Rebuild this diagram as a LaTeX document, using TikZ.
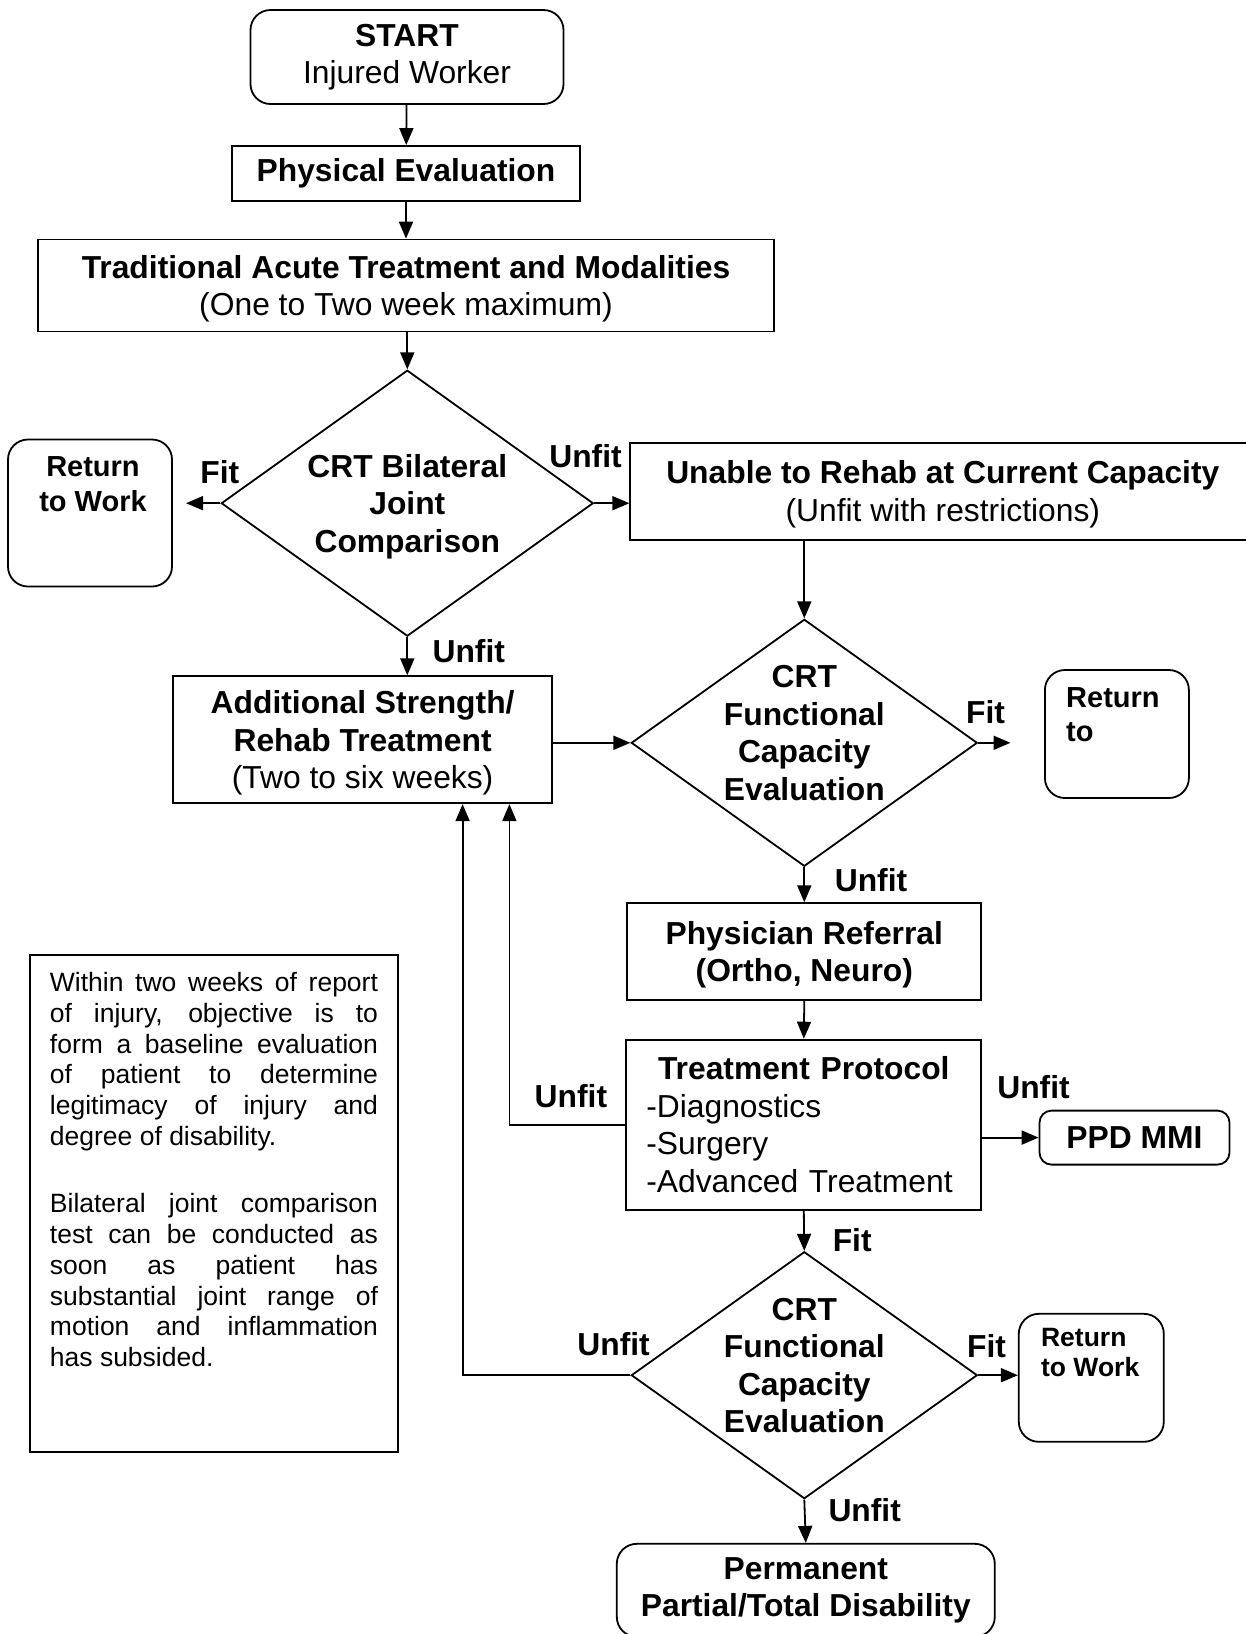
\documentclass[tikz,border=0pt]{standalone}
\usepackage{fontspec}
\setmainfont{Liberation Sans}
\usetikzlibrary{shapes.geometric,arrows.meta,positioning}

\newcommand\boxfont{\fontsize{31.8}{37.5}\selectfont}
\newcommand\notefont{\fontsize{26.5}{30.7}\selectfont}

\tikzset{
  stepbox/.style={draw, line width=1.8pt, inner sep=0pt, align=center, font=\boxfont},
  endbox/.style={stepbox, rounded corners=20pt},
  check/.style={stepbox, diamond, font=\boxfont\bfseries, shape aspect=1.4,
    inner sep=-12pt, minimum width=346pt, minimum height=247pt},
  flow/.style={line width=1.8pt, -{Triangle[length=17pt,width=14pt]}},
  answer/.style={inner sep=0pt, font=\boxfont\bfseries},
}

\begin{document}
\begin{tikzpicture}[x=1pt, y=-1pt]
  \clip (0,0) rectangle (1246,1634);

  % main column
  \node[endbox, minimum width=313pt, minimum height=94pt] (start) at (407,57)
    {\textbf{START}\\Injured Worker};
  \node[stepbox, minimum width=348pt, minimum height=55pt] (phys) at (406,173.5)
    {\textbf{Physical Evaluation}};
  \node[stepbox, minimum width=736pt, minimum height=92pt, text depth=0pt] (trad) at (406,285.5)
    {\textbf{Traditional Acute Treatment and Modalities}\\(One to Two week maximum)};
  \node[check, minimum width=372pt, minimum height=266pt, text depth=0pt] (bjc) at (407.3,503.2)
    {CRT Bilateral\\Joint\\Comparison};

  \node[endbox, minimum width=164pt, minimum height=147pt] (rtwA) at (90,513) {};
  \node[answer, font=\fontsize{29}{35.4}\selectfont\bfseries, align=center,
    below=17.5pt of rtwA.north, xshift=3pt] (rtwAtext) {Return\\to Work};

  \node[stepbox, minimum width=625pt, minimum height=97pt, text depth=0pt] (unable) at (942.8,491.2)
    {\textbf{Unable to Rehab at Current Capacity}\\(Unfit with restrictions)};
  \node[stepbox, minimum width=379pt, minimum height=127pt, text depth=0pt] (add)
    at (362.6,739.7)
    {\textbf{Additional Strength/}\\\textbf{Rehab Treatment}\\(Two to six weeks)};

  % right column
  \node[check, text depth=20pt] (fce) at (804.3,742.8)
    {CRT\\Functional\\Capacity\\Evaluation};
  \node[endbox, minimum width=144pt, minimum height=128pt] (rtwB) at (1116.9,734) {};
  \node[answer, font=\fontsize{29}{34.4}\selectfont\bfseries, align=left,
    below right=18pt and 22pt of rtwB.north west] (rtwBtext) {Return\\to};

  \node[stepbox, minimum width=354pt, minimum height=97pt, text depth=0pt] (refer) at (804.3,951.7)
    {\textbf{Physician Referral}\\\textbf{(Ortho, Neuro)}};
  \node[stepbox, minimum width=355pt, minimum height=170pt, text width=315pt,
    inner xsep=20pt, align=left] (treat) at (803.8,1124.6)
    {\makebox[315pt]{\textbf{Treatment Protocol}}\\-Diagnostics\\-Surgery\\-Advanced Treatment};
  \node[endbox, rounded corners=12pt, minimum width=190pt, minimum height=54pt] (ppd)
    at (1134.5,1137.6) {\textbf{PPD MMI}};

  \node[check, text depth=20pt] (fce2) at (804.3,1375.2)
    {CRT\\Functional\\Capacity\\Evaluation};
  \node[endbox, minimum width=145pt, minimum height=128pt] (rtwC) at (1091.3,1377.8) {};
  \node[answer, font=\fontsize{26.5}{29.2}\selectfont\bfseries, align=left,
    below right=15.5pt and 23pt of rtwC.north west] (rtwCtext) {Return\\to Work};

  \node[endbox, minimum width=378pt, minimum height=93pt, anchor=north] (perm)
    at (805.8,1542.9) {\textbf{Permanent}\\\textbf{Partial/Total Disability}};

  % note on the left
  \node[draw, line width=1.8pt, inner xsep=19.85pt, inner ysep=17.3pt, anchor=north west]
    (note) at (29.2,954.3)
    {\parbox[t][462.4pt][t]{328pt}{\notefont\sloppy
      Within two weeks of report\linebreak
      of injury, objective is to\linebreak
      form a baseline evaluation\linebreak
      of patient to determine\linebreak
      legitimacy of injury and\linebreak
      degree of disability.\par\vspace{37pt}
      Bilateral joint comparison\linebreak
      test can be conducted as\linebreak
      soon as patient has\linebreak
      substantial joint range of\linebreak
      motion and inflammation\linebreak
      has subsided.}};

  % loose ends and bends
  \coordinate (fitAend) at (186,503.2);
  \coordinate (fitBend) at (1010.5,742.8);
  \coordinate (loopA) at (509.4,1124.6);
  \coordinate (loopB) at (462.6,1375.2);

  % connectors
  \draw[flow] (start) -- (phys);
  \draw[flow] (phys.south) -- (phys.south |- trad.north);
  \draw[flow] (trad.south -| bjc.north) -- (bjc.north);
  \draw[flow] (bjc.west) -- (fitAend);
  \draw[flow] (bjc.east) -- (unable.west |- bjc.east);
  \draw[flow] (bjc.south) -- (bjc.south |- add.north);
  \draw[flow] (fce.north |- unable.south) -- (fce.north);
  \draw[flow] (add.east |- fce.west) -- (fce.west);
  \draw[flow] (fce.east) -- (fitBend);
  \draw[flow] (fce.south) -- (refer.north);
  \draw[flow] (refer.south) -- (treat.north);
  \draw[flow] (treat.west) -- (loopA) -- (loopA |- add.south);
  \draw[flow] (treat.east |- ppd.west) -- (ppd.west);
  \draw[flow] (treat.south) -- (fce2.north);
  \draw[flow] (fce2.west) -- (loopB) -- (loopB |- add.south);
  \draw[flow] (fce2.east) -- (rtwC.west |- fce2.east);
  \draw[flow] (fce2.south) -- (perm.north);

  % answers on the connectors
  \foreach \name/\px/\py/\word in {
      fitA/219.8/471.9/Fit,
      unfitA/585.5/456.3/Unfit,
      unfitB/468.8/651.1/Unfit,
      fitB/985.5/712.6/Fit,
      unfitC/871/880.3/Unfit,
      unfitD/570.9/1096/Unfit,
      unfitE/1033.5/1087.6/Unfit,
      fitC/852.2/1239.7/Fit,
      unfitF/613.6/1343.9/Unfit,
      fitD/986.6/1346/Fit,
      unfitG/864.7/1510.6/Unfit%
    } {
      \node[answer] (\name) at (\px,\py) {\word};
    }
\end{tikzpicture}
\end{document}
